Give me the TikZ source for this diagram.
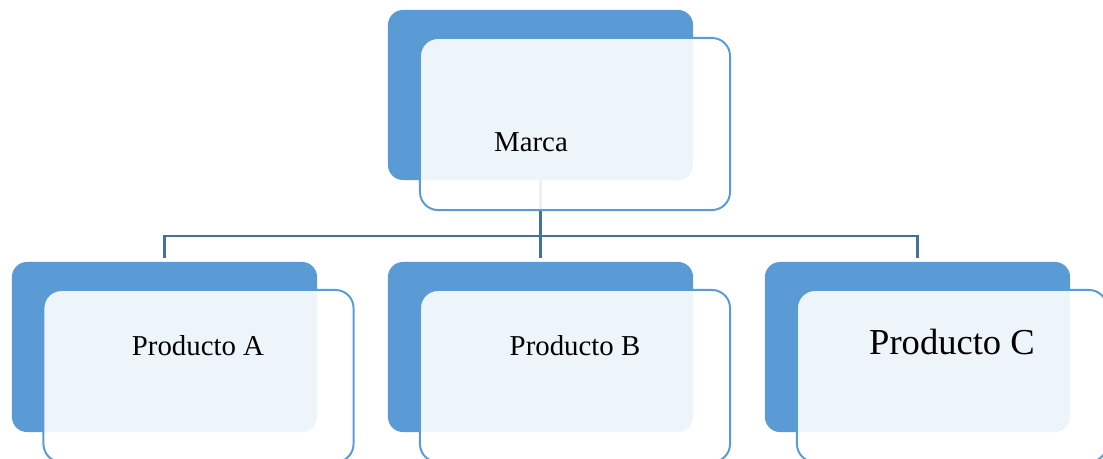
\documentclass[tikz,border=0pt]{standalone}
\usepackage{fontspec}
\setmainfont{Liberation Serif}
\definecolor{azul}{HTML}{5B9BD5}
\definecolor{linea}{HTML}{41719C}
\tikzset{
  fondo/.style={rectangle, rounded corners=0.375cm, fill=azul, minimum width=7.625cm, minimum height=4.25cm, inner sep=0pt, outer sep=0pt},
  frente/.style={rectangle, rounded corners=0.45cm, draw=azul, line width=1.4pt, fill=white, fill opacity=0.9, minimum width=7.75cm, minimum height=4.3cm, inner sep=0pt},
  etiqueta/.style={anchor=base, inner sep=0pt, font=\fontsize{20.5}{24}\selectfont},
  conector/.style={draw=linea, line width=1.5pt}
}
\begin{document}
\begin{tikzpicture}[x=0.025cm, y=-0.025cm]
\useasboundingbox (0,0) rectangle (1103,459);
\clip (0,0) rectangle (1103,459);
% cajas de fondo
\node[fondo] (fmarca) at (540.5,95) {};
\node[fondo] (fa) at (164.5,347) {};
\node[fondo] (fb) at (540.5,347) {};
\node[fondo] (fc) at (917.5,347) {};
% conectores
\coordinate (bus) at (540.5,236);
\coordinate (pa) at ([yshift=0.1cm]fa.north);
\coordinate (pb) at ([yshift=0.1cm]fb.north);
\coordinate (pc) at ([yshift=0.1cm]fc.north);
\draw[conector] (fmarca.south) -- (bus);
\draw[conector] (pa) -- (pa |- bus) -- (pc |- bus) -- (pc);
\draw[conector] (bus) -- (pb);
% cajas de frente
\node[frente] (marca) at (575,124) {};
\node[frente] (a) at (198.5,376) {};
\node[frente] (b) at (575,376) {};
\node[frente] (c) at (952,376) {};
% textos
\node[etiqueta] (tmarca) at (531,152) {Marca};
\node[etiqueta] (ta) at (198,355) {Producto A};
\node[etiqueta] (tb) at (575,355) {Producto B};
\node[etiqueta, font=\fontsize{26}{30}\selectfont] (tc) at (952,354) {Producto C};
\end{tikzpicture}
\end{document}
